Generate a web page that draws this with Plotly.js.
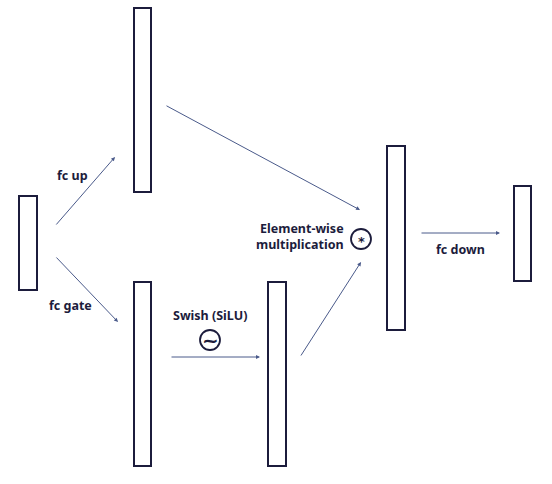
<!DOCTYPE html>
<html><head><script src="https://cdn.plot.ly/plotly-3.0.1.min.js"></script>
<style>body{margin:0}</style></head><body>
<div id="g" style="width:552px;height:484px"></div>
<script>
// boxes (layers)
const boxNames = ["input","up","gate","silu","mult","down"];
const boxX0 = [19,134,134,268,387,514];
const boxX1 = [37,151,151,286,405,531];
const boxY0 = [196,8,282,282,146,186];
const boxY1 = [290,192,466,466,330,281];
// arrows: start -> end
const arrX0 = [55,55,165,170,300,420];
const arrY0 = [226,256,105,357,357,233];
const arrX1 = [115,118,360,260,361,500];
const arrY1 = [157,322,210,357,262,233];
// labels
const labText = ["fc up","fc gate","Swish (SiLU)","Element-wise<br>multiplication","fc down"];
const labX = [72,70,210,346,460];
const labY = [175,305,315,236,249];
const labAnchor = ["center","center","center","right","center"];
// operator circles
const opText = ["~","*"];
const opX = [210,361];
const opY = [340,239];

const ink = "#1c1c3c", line = "#4a5a8a";
const shapes = [], ann = [];
boxX0.forEach((x,i)=>shapes.push({type:"rect",x0:x,x1:boxX1[i],y0:boxY0[i],y1:boxY1[i],line:{color:ink,width:2},fillcolor:"white"}));
opX.forEach((x,i)=>shapes.push({type:"circle",x0:x-10,x1:x+10,y0:opY[i]-10,y1:opY[i]+10,line:{color:ink,width:1.8}}));
arrX0.forEach((x,i)=>ann.push({x:arrX1[i],y:arrY1[i],ax:x,ay:arrY0[i],xref:"x",yref:"y",axref:"x",ayref:"y",text:"",showarrow:true,arrowhead:2,arrowsize:0.8,arrowwidth:1,arrowcolor:line}));
labText.forEach((t,i)=>ann.push({x:labX[i],y:labY[i],text:"<b>"+t+"</b>",showarrow:false,xanchor:labAnchor[i],align:labAnchor[i],font:{family:"Noto Sans",size:12.5,color:ink}}));
opText.forEach((t,i)=>ann.push({x:opX[i],y:opY[i]+(i==1?2:0),text:"<b>"+t+"</b>",showarrow:false,font:{family:"DejaVu Sans",size:i==0?20:13,color:ink}}));
Plotly.newPlot("g",[],{width:552,height:484,margin:{l:0,r:0,t:0,b:0},paper_bgcolor:"white",plot_bgcolor:"white",
 xaxis:{range:[0,552],visible:false,fixedrange:true},yaxis:{range:[484,0],visible:false,fixedrange:true},
 shapes:shapes,annotations:ann,showlegend:false},{staticPlot:true});
</script></body></html>
